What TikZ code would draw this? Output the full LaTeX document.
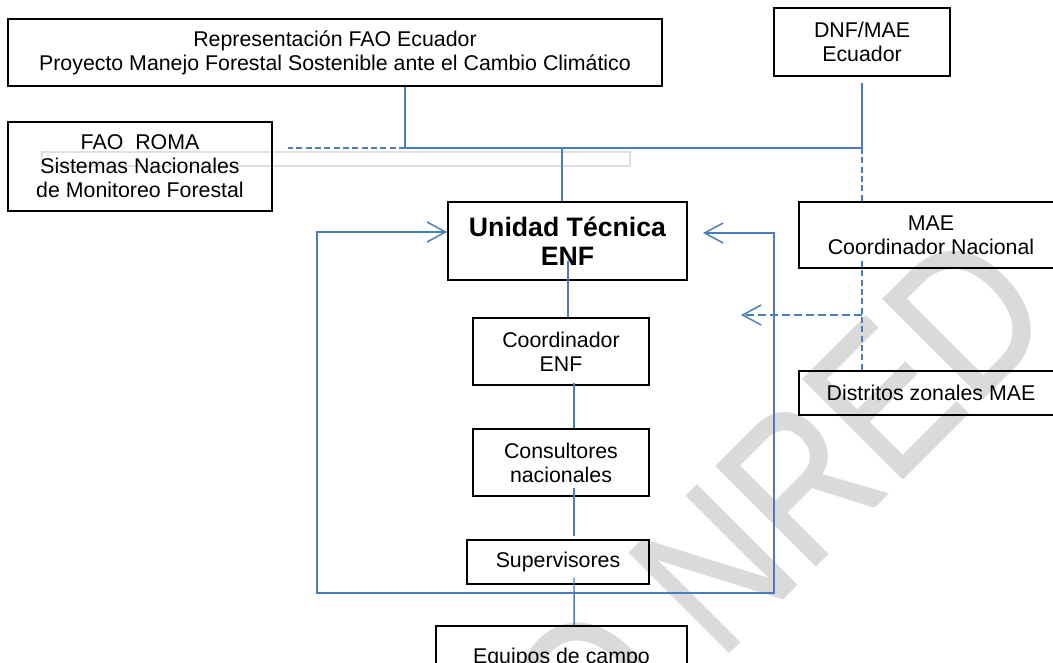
\documentclass[tikz,border=0pt]{standalone}
\usepackage{fontspec}
\setmainfont{Liberation Sans}
\newfontfamily\wmfont[FakeBold=1]{Liberation Sans}
\usetikzlibrary{arrows.meta,calc}
\definecolor{lnblue}{HTML}{4A7EBB}
\definecolor{wmgray}{HTML}{DADADA}
\begin{document}
\begin{tikzpicture}[x=0.75pt,y=-0.75pt,
  box/.style={draw=black,line width=1.3pt,inner sep=0pt,align=center,font=\fontsize{16}{18}\selectfont},
  conn/.style={draw=lnblue,line width=1.1pt},
  dsh/.style={dash pattern=on 4.5pt off 2.5pt},
  ldsh/.style={dash pattern=on 6pt off 3pt},
  >={Straight Barb[length=14pt,width=15pt]}]
\useasboundingbox (0,0) rectangle (1053,663);
\clip (0,0) rectangle (1053,663);
% watermark
\node[rotate=45, yscale=1.2, anchor=base west, text=wmgray, font=\wmfont\fontsize{127.5}{127.5}\selectfont, inner sep=0pt] (wm) at (593,788) {O\kern0.27em NRED};
% faint rectangle
\draw[gray!25, line width=1.2pt] (42,152) rectangle (630,166);
% boxes
\node[box, minimum width=490.5pt, minimum height=50.25pt] (fao) at (335,52.5) {Representación FAO Ecuador\\Proyecto Manejo Forestal Sostenible ante el Cambio Climático};
\node[box, minimum width=132pt, minimum height=51pt] (dnf) at (862,42) {DNF/MAE\\Ecuador};
\node[box, minimum width=198pt, minimum height=66.75pt] (roma) at (140,166.5) {FAO\ \ ROMA\\Sistemas Nacionales\\de Monitoreo Forestal};
\node[box, minimum width=179.25pt, minimum height=58.5pt, font=\bfseries\fontsize{20}{22}\selectfont] (ut) at (567.5,241) {Unidad Técnica\\ENF};
\node[box, minimum width=132pt, minimum height=50.25pt] (coord) at (561,351.5) {Coordinador\\ENF};
\node[box, minimum width=132pt, minimum height=50.25pt] (cons) at (561,462.5) {Consultores\\nacionales};
\node[box, minimum width=136.5pt, minimum height=33pt] (sup) at (558,562) {Supervisores};
\node[box, minimum width=188.25pt, minimum height=48pt] (eq) at (561.5,658) {Equipos de campo};
\node[box, minimum width=198pt, minimum height=49.5pt] (mae) at (931,235) {MAE\\Coordinador Nacional};
\node[box, minimum width=198pt, minimum height=33pt] (dist) at (931,393) {Distritos zonales MAE};
% junctions
\coordinate (j1) at (405,148);
\coordinate (j2) at (562,148);
\coordinate (j3) at (862,148);
\coordinate (romaend) at (288,148);
\coordinate (j4) at (862,315);
\coordinate (arrend) at (741,315);
\coordinate (fbr) at (703,233);
\coordinate (fbtr) at (774,233);
\coordinate (fbbr) at (774,593);
\coordinate (fbbl) at (317,593);
\coordinate (fbtl) at (317,232);
% connectors
\draw[conn] (fao.south -| j1) -- (j1);
\draw[conn] (j1) -- (j3);
\draw[conn,dsh] (j1) -- (romaend);
\draw[conn] ([yshift=-4.5pt]dnf.south) -- (j3);
\draw[conn] (j2) -- (ut.north -| j2);
\draw[conn,dsh] (j3) -- (mae.north -| j3);
\draw[conn,dsh] ([yshift=6pt]mae.south -| j3) -- (dist.north -| j3);
\draw[conn,ldsh,->] (j4) -- (arrend);
\draw[conn] ([xshift=0.5pt,yshift=15pt]ut.south) -- ([xshift=0.5pt]ut.south |- coord.north);
\draw[conn] ([xshift=9.75pt,yshift=2.25pt]coord.south) -- ([xshift=9.75pt]cons.north);
\draw[conn] ([xshift=9.75pt,yshift=6.75pt]cons.south) -- ([xshift=12pt,yshift=2.25pt]sup.north);
\draw[conn] ([xshift=12pt,yshift=5.25pt]sup.south) -- ([xshift=9.4pt]eq.north);
\draw[conn,<->] (fbr) -- (fbtr) -- (fbbr) -- (fbbl) -- (fbtl) -- ([yshift=6.75pt]ut.west);
\end{tikzpicture}
\end{document}
